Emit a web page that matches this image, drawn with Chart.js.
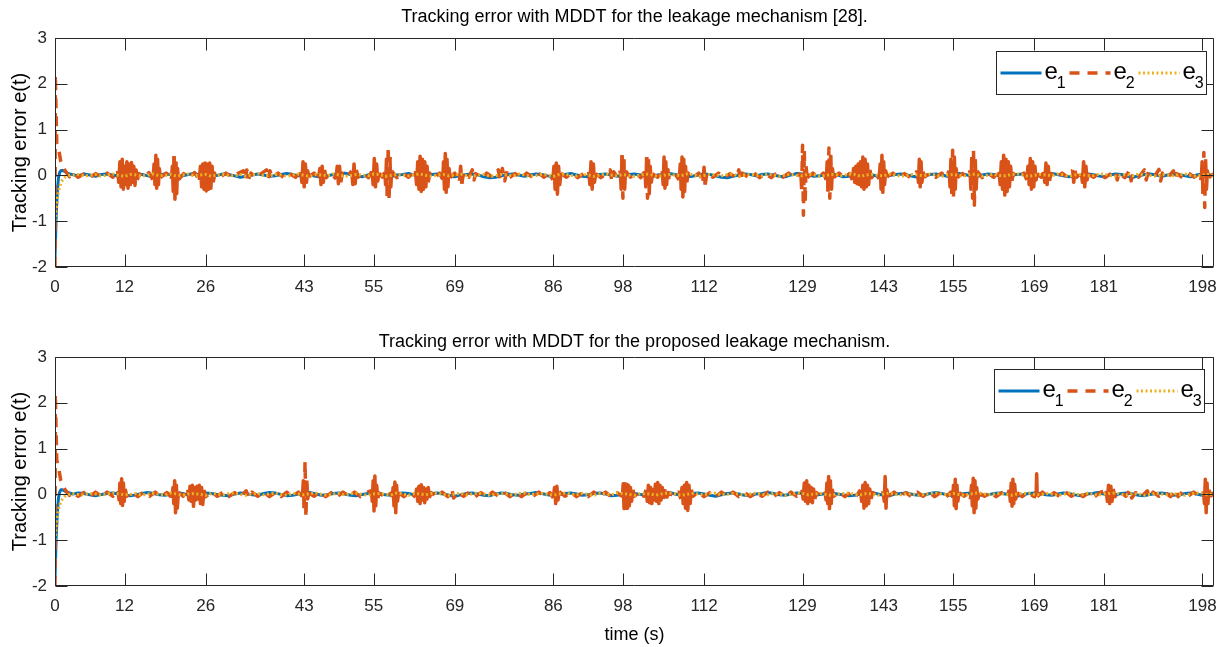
<!DOCTYPE html>
<html><head><meta charset="utf-8">
<script src="https://cdn.jsdelivr.net/npm/chart.js@4"></script>
<style>
html,body{margin:0;padding:0;background:#fff;width:1222px;height:647px;overflow:hidden}
.wrap{position:absolute;left:0;width:1222px}
canvas{display:block}
</style></head><body>
<div class="wrap" style="top:0;height:323px"><canvas id="c1" width="1222" height="323"></canvas></div>
<div class="wrap" style="top:323px;height:324px"><canvas id="c2" width="1222" height="324"></canvas></div>
<script>
// ---------- DATA ----------
const xTicks = [0,12,26,43,55,69,86,98,112,129,143,155,169,181,198];
const yTicks = [-2,-1,0,1,2,3];
const seriesLabels = ['e_1','e_2','e_3'];
const titleTop = 'Tracking error with MDDT for the leakage mechanism [28].';
const titleBot = 'Tracking error with MDDT for the proposed leakage mechanism.';
const yLabel = 'Tracking error e(t)';
const xLabel = 'time (s)';

// time samples for e1 / e3
const tE = [0,0.2,0.4,0.6,0.8,1,1.3,1.6,2,2.5,
3,4,5,6,7,8,9,10,11,12,13,14,15,16,17,18,19,20,21,22,23,24,25,26,27,28,29,30,31,32,33,34,35,36,37,38,39,40,41,42,
43,44,45,46,47,48,49,50,51,52,53,54,55,56,57,58,59,60,61,62,63,64,65,66,67,68,69,70,71,72,73,74,75,76,77,78,79,80,81,82,
83,84,85,86,87,88,89,90,91,92,93,94,95,96,97,98,99,100,101,102,103,104,105,106,107,108,109,110,111,112,113,114,115,116,117,118,119,120,121,122,
123,124,125,126,127,128,129,130,131,132,133,134,135,136,137,138,139,140,141,142,143,144,145,146,147,148,149,150,151,152,153,154,155,156,157,158,159,160,161,162,
163,164,165,166,167,168,169,170,171,172,173,174,175,176,177,178,179,180,181,182,183,184,185,186,187,188,189,190,191,192,193,194,195,196,197,198,199,200];

const e1Top = [-1.8,-0.9,-0.35,-0.05,0.06,0.1,0.11,0.09,0.06,0.03,
0.02,-0.01,0.03,0.01,-0.02,0.02,0.03,0.01,-0.02,-0.03,
0.01,0.03,0.02,-0.01,-0.03,0.01,0.03,0.02,-0.02,-0.01,
0.02,0.04,0.01,-0.02,-0.03,0.00,0.03,0.02,-0.01,-0.04,
-0.02,0.01,0.03,0.01,-0.02,-0.01,0.02,0.04,0.02,-0.01,
0.03,0.01,-0.02,-0.04,-0.01,0.02,0.03,0.05,0.02,-0.01,
-0.03,0.01,0.03,0.02,-0.02,-0.03,0.01,0.02,0.04,0.01,
-0.02,-0.01,0.02,0.03,0.01,-0.02,-0.03,0.00,0.02,0.03,
0.01,-0.03,-0.05,-0.04,-0.01,0.02,0.03,0.01,-0.02,0.01,
0.03,0.02,-0.01,-0.03,0.01,0.02,0.04,0.01,-0.02,-0.03,
0.00,0.02,0.03,0.01,-0.02,-0.01,0.02,0.03,0.01,-0.02,
-0.03,0.01,0.02,0.04,0.02,-0.01,-0.03,-0.02,0.01,0.03,
0.02,-0.01,-0.04,-0.05,-0.02,0.01,0.03,0.02,-0.01,0.02,
0.03,0.01,-0.02,-0.03,0.01,0.04,0.03,0.01,-0.02,-0.01,
0.02,0.03,0.01,-0.03,-0.02,0.01,0.02,0.04,0.01,-0.02,
-0.03,0.00,0.02,0.03,0.01,-0.02,-0.04,-0.01,0.02,0.03,
0.01,-0.02,0.02,0.04,0.02,-0.01,-0.03,0.01,0.03,0.02,
-0.01,-0.03,0.01,0.02,0.03,0.01,-0.02,-0.01,0.02,0.04,
0.02,-0.01,-0.03,-0.02,0.01,0.03,0.02,-0.01,-0.03,0.01,
0.03,0.02,-0.02,-0.04,-0.01,0.02,0.03,0.01,-0.02,0.01,
0.03,0.02,-0.01,-0.03,0.01,0.03,0.02,-0.01];

const e3Top = [-1.0,-0.75,-0.5,-0.35,-0.25,-0.17,-0.1,-0.05,-0.02,0.0,
0.01,0.02,-0.01,0.00,0.02,-0.02,0.01,0.03,0.00,-0.02,
0.02,0.01,-0.02,0.01,0.03,-0.01,0.00,0.02,-0.02,0.01,
0.03,-0.01,0.01,0.02,-0.02,0.01,0.02,0.00,-0.01,0.02,
-0.02,0.01,0.03,0.00,-0.01,0.02,0.01,-0.02,0.01,0.03,
0.00,-0.02,0.02,0.01,-0.01,0.03,0.01,-0.02,0.00,0.02,
0.01,-0.01,0.03,0.02,-0.02,0.00,0.02,0.01,-0.01,0.02,
0.03,0.00,-0.02,0.01,0.02,-0.01,0.01,0.03,0.00,-0.02,
0.01,0.02,-0.02,-0.01,0.02,0.01,-0.01,0.03,0.01,-0.02,
0.00,0.02,0.01,-0.02,0.02,0.03,0.00,-0.01,0.02,0.01,
-0.02,0.01,0.03,0.01,-0.01,0.02,0.00,-0.02,0.01,0.03,
0.01,-0.02,0.00,0.02,0.01,-0.01,0.03,0.02,-0.02,0.00,
0.02,0.01,-0.01,0.02,0.03,-0.02,0.01,0.02,0.00,-0.01,
0.03,0.01,-0.02,0.01,0.02,0.00,-0.01,0.03,0.01,-0.02,
0.00,0.02,0.01,-0.01,0.03,0.02,-0.02,0.01,0.02,0.00,
-0.01,0.03,0.01,-0.02,0.00,0.02,0.01,-0.01,0.03,0.01,
-0.02,0.01,0.02,0.00,-0.01,0.03,0.02,-0.02,0.01,0.02,
0.00,-0.01,0.02,0.03,0.01,-0.02,0.00,0.02,0.01,-0.01,
0.03,0.01,-0.02,0.01,0.02,0.00,-0.01,0.02,0.03,0.00,
-0.02,0.01,0.02,-0.01,0.03,0.01,0.00,-0.02,0.02,0.01,
-0.01,0.02,0.03,0.00,-0.02,0.01,0.02,0.00];

const e1Bot = [-1.85,-0.95,-0.4,-0.08,0.05,0.1,0.1,0.08,0.05,0.03,
0.01,0.03,0.02,-0.01,-0.03,0.00,0.02,0.03,0.01,-0.02,
-0.03,-0.01,0.02,0.04,0.02,-0.01,-0.02,0.01,0.03,0.02,
-0.01,-0.03,0.01,0.03,0.02,0.00,-0.02,-0.03,0.01,0.03,
0.02,-0.01,-0.02,0.02,0.04,0.03,0.00,-0.03,-0.02,0.01,
0.03,0.04,0.01,-0.02,-0.01,0.02,0.03,0.01,-0.02,-0.03,
0.00,0.02,0.04,0.02,-0.01,-0.02,0.01,0.03,0.02,-0.01,
-0.03,0.01,0.02,0.03,0.01,-0.02,-0.04,-0.01,0.02,0.03,
0.01,-0.02,-0.03,0.01,0.03,0.02,-0.01,-0.02,0.01,0.02,
0.04,0.02,-0.01,-0.03,0.00,0.02,0.03,0.01,-0.02,-0.01,
0.02,0.03,0.01,-0.03,-0.02,0.01,0.03,0.02,0.00,-0.02,
-0.03,0.01,0.02,0.04,0.01,-0.02,-0.01,0.02,0.03,0.01,
-0.02,-0.04,-0.01,0.02,0.03,0.01,-0.02,-0.03,0.01,0.02,
0.04,0.02,-0.01,-0.02,0.01,0.03,0.02,-0.02,-0.03,0.00,
0.02,0.03,0.01,-0.01,-0.03,-0.02,0.01,0.03,0.04,0.01,
-0.02,-0.03,0.01,0.02,0.03,0.00,-0.02,-0.01,0.02,0.04,
0.02,-0.01,-0.03,0.00,0.02,0.03,0.01,-0.02,-0.01,0.02,
0.03,0.01,-0.02,-0.04,-0.01,0.02,0.03,0.02,-0.01,-0.02,
0.01,0.03,0.02,-0.01,-0.03,0.01,0.02,0.04,0.01,-0.02,
-0.01,0.02,0.03,0.01,-0.02,-0.03,0.00,0.02,0.03,0.01,
-0.02,-0.01,0.02,0.03,0.01,-0.02,0.01,0.03];

const e3Bot = [-1.0,-0.72,-0.48,-0.33,-0.24,-0.16,-0.1,-0.05,-0.02,0.0,
0.02,0.00,-0.01,0.02,0.01,-0.02,0.01,0.03,0.01,-0.01,
0.00,0.02,-0.02,0.01,0.02,0.00,-0.01,0.03,0.01,-0.02,
0.01,0.02,0.00,-0.02,0.02,0.01,-0.01,0.02,0.03,0.00,
-0.02,0.01,0.02,-0.01,0.01,0.03,0.00,-0.02,0.02,0.01,
-0.01,0.02,0.03,0.00,-0.02,0.01,0.02,-0.01,0.01,0.03,
0.00,-0.02,0.01,0.02,0.00,-0.01,0.03,0.01,-0.02,0.02,
0.01,-0.01,0.02,0.03,0.00,-0.02,0.01,0.02,-0.01,0.01,
0.03,0.01,-0.02,0.00,0.02,0.01,-0.01,0.02,0.03,-0.01,
0.01,0.02,0.00,-0.02,0.01,0.03,0.01,-0.01,0.02,0.00,
-0.02,0.02,0.01,-0.01,0.03,0.02,0.00,-0.02,0.01,0.02,
0.00,-0.01,0.02,0.03,0.01,-0.02,0.00,0.02,0.01,-0.01,
0.02,0.03,-0.01,0.00,0.02,0.01,-0.02,0.01,0.03,0.00,
-0.01,0.02,0.01,-0.02,0.00,0.03,0.02,-0.01,0.01,0.02,
0.00,-0.02,0.01,0.02,0.03,0.00,-0.01,0.02,0.01,-0.02,
0.01,0.03,0.00,-0.01,0.02,0.01,-0.02,0.00,0.02,0.03,
0.01,-0.01,0.02,0.00,-0.02,0.01,0.03,0.02,-0.01,0.01,
0.02,0.00,-0.02,0.01,0.02,0.03,0.00,-0.01,0.02,0.01,
-0.02,0.00,0.03,0.01,-0.01,0.02,0.01,-0.02,0.01,0.02,
0.03,0.00,-0.01,0.02,0.01,-0.02,0.00,0.03,0.01,-0.01,
0.02,0.00,-0.02,0.01,0.03,0.01,-0.01,0.02];

// e2 as [time, value] samples (dense inside oscillation bursts)
const e2Top = [[0,-2.0],[0.05,2.2],[0.3,0.7],[0.6,0.6],[1.0,0.3],[1.5,0.15],[2,0.06],[2.5,-0.03],[3,0.05],[4,-0.04],[5,0.03],[6,-0.05],[7,0.04],[8,-0.03],[9,0.05],[10,-0.04],
[10.8,0.1],[11.0,-0.15],[11.2,0.3],[11.4,-0.25],[11.6,0.35],[11.8,-0.3],[12.0,0.2],[12.2,-0.2],[12.4,0.3],[12.6,-0.28],[12.8,0.25],[13.0,-0.2],[13.2,0.28],[13.4,-0.15],[13.6,0.2],[13.8,-0.22],[14.0,0.12],[14.2,-0.1],[14.5,0.04],
[15.3,-0.05],[16.2,0.06],
[16.9,-0.1],[17.1,0.25],[17.25,-0.2],[17.4,0.44],[17.55,-0.28],[17.7,0.35],[17.85,-0.2],[18.0,0.15],[18.2,-0.05],
[19.2,0.05],
[20.1,-0.08],[20.25,0.2],[20.4,-0.35],[20.55,0.42],[20.7,-0.52],[20.85,0.3],[21.0,-0.4],[21.15,0.15],[21.3,-0.1],
[22.2,0.04],[23.1,-0.05],[24.1,0.06],
[24.9,-0.1],[25.1,0.2],[25.3,-0.25],[25.5,0.25],[25.7,-0.3],[25.9,0.27],[26.1,-0.34],[26.3,0.25],[26.5,-0.3],[26.7,0.27],[26.9,-0.28],[27.1,0.2],[27.3,-0.15],[27.6,0.05],
[28.5,-0.04],[29.5,0.05],[30.5,-0.03],[31.5,0.04],
[32.5,0.1],[32.8,-0.1],[33.1,0.12],[33.4,-0.08],[33.8,0.05],
[34.8,-0.04],[35.7,0.05],
[36.5,0.12],[36.8,-0.08],[37.1,0.1],[37.5,-0.04],
[38.5,0.05],[39.5,-0.05],[40.5,0.04],[41.5,-0.04],
[42.4,0.08],[42.6,-0.15],[42.8,0.3],[43.0,-0.25],[43.2,0.25],[43.4,-0.15],[43.6,0.1],[43.8,-0.03],
[44.7,0.05],
[45.5,-0.05],[45.7,0.15],[45.9,-0.2],[46.1,0.2],[46.3,-0.15],[46.5,0.12],[46.8,-0.05],
[47.7,0.04],
[48.5,-0.08],[48.7,0.2],[48.9,-0.18],[49.1,0.2],[49.3,-0.15],[49.6,0.05],
[50.4,-0.03],
[51.2,0.1],[51.4,-0.2],[51.6,0.25],[51.8,-0.18],[52.0,0.12],[52.3,-0.04],
[53.2,0.05],[54.1,-0.05],
[54.7,0.1],[54.9,-0.2],[55.1,0.37],[55.3,-0.25],[55.5,0.25],[55.7,-0.12],[55.9,0.05],
[56.5,-0.04],
[56.9,0.08],[57.05,-0.2],[57.2,0.35],[57.35,-0.45],[57.5,0.62],[57.65,-0.55],[57.8,0.4],[57.95,-0.25],[58.1,0.1],
[59,-0.05],[60,0.05],[61,-0.04],
[62.2,0.1],[62.4,-0.2],[62.6,0.3],[62.8,-0.3],[63.0,0.42],[63.2,-0.35],[63.4,0.35],[63.6,-0.3],[63.8,0.3],[64.0,-0.25],[64.2,0.2],[64.4,-0.15],[64.7,0.05],
[65.6,-0.04],[66.4,0.05],
[66.9,-0.1],[67.05,0.3],[67.2,-0.3],[67.35,0.48],[67.5,-0.37],[67.65,0.35],[67.8,-0.25],[68.0,0.15],[68.2,-0.05],
[69,0.05],
[69.8,-0.12],[70.0,0.2],[70.2,-0.18],[70.5,0.06],
[71.4,-0.04],[72,0.12],[72.3,-0.1],[72.6,0.04],
[73.5,-0.05],[74.5,0.05],[75.5,-0.04],
[76.5,0.12],[76.8,-0.1],[77.2,0.15],[77.6,-0.12],[78.0,0.1],[78.4,-0.05],
[79.4,0.04],[80.4,-0.05],[81.4,0.05],[82.4,-0.04],[83.4,0.05],[84.4,-0.04],[85.3,0.05],
[85.9,-0.1],[86.1,0.2],[86.3,-0.3],[86.5,0.27],[86.7,-0.41],[86.9,0.2],[87.1,-0.2],[87.3,0.05],
[88.2,-0.04],[89.2,0.05],[90.2,-0.05],[91.2,0.04],
[92.1,0.08],[92.3,-0.2],[92.5,0.3],[92.7,-0.3],[92.9,0.25],[93.1,-0.15],[93.3,0.04],
[94.2,-0.05],[95.1,0.04],[95.8,0.12],[96.1,-0.14],[96.4,0.08],[97.1,-0.05],
[97.55,0.1],[97.7,-0.3],[97.85,0.44],[98.0,-0.5],[98.15,0.35],[98.3,-0.3],[98.45,0.1],
[99.3,-0.04],[100.2,0.05],[101.1,-0.05],
[101.8,0.1],[101.95,-0.25],[102.1,0.4],[102.25,-0.5],[102.4,0.35],[102.55,-0.4],[102.7,0.2],[102.9,-0.15],[103.1,0.04],
[104.0,-0.04],
[104.8,0.1],[104.95,-0.2],[105.1,0.4],[105.25,-0.28],[105.4,0.3],[105.55,-0.2],[105.7,0.15],[106.0,-0.05],
[106.9,0.05],
[107.7,-0.1],[107.9,0.25],[108.05,-0.3],[108.2,0.4],[108.35,-0.47],[108.5,0.35],[108.65,-0.35],[108.8,0.2],[109.0,-0.15],[109.3,0.05],
[110.2,-0.04],[111.1,0.05],
[111.8,-0.12],[112.0,0.18],[112.2,-0.2],[112.5,0.06],
[113.5,-0.04],[114.5,0.05],[115.5,-0.05],[116.5,0.04],[117.5,-0.05],[118,0.12],[118.3,-0.12],[118.6,0.05],[119.6,-0.04],[120.6,0.05],[121.6,-0.05],[122.6,0.04],[123.6,-0.05],[124.6,0.06],[125.6,-0.04],[126.6,0.05],[127.6,-0.05],
[128.7,0.05],[128.85,-0.3],[129.0,0.66],[129.15,-0.87],[129.3,0.55],[129.45,-0.6],[129.6,0.2],[129.8,-0.05],
[130.8,0.05],[131.8,-0.04],[132.6,0.05],
[133.1,-0.1],[133.25,0.3],[133.4,-0.35],[133.55,0.6],[133.7,-0.5],[133.85,0.45],[134.0,-0.3],[134.15,0.15],[134.35,-0.05],
[135.3,0.05],[136.3,-0.05],[137.1,0.04],
[137.6,-0.1],[137.8,0.15],[138.0,-0.15],[138.2,0.2],[138.4,-0.18],[138.6,0.25],[138.8,-0.2],[139.0,0.3],[139.2,-0.25],[139.4,0.4],[139.6,-0.3],[139.8,0.35],[140.0,-0.25],[140.2,0.25],[140.4,-0.2],[140.6,0.12],[140.9,-0.05],
[141.7,0.05],
[142.2,-0.08],[142.4,0.25],[142.55,-0.3],[142.7,0.44],[142.85,-0.37],[143.0,0.3],[143.15,-0.2],[143.35,0.1],[143.6,-0.03],
[144.6,0.05],[145.6,-0.05],[146.6,0.04],[147.6,-0.05],[148.4,0.04],
[148.8,0.1],[149.0,-0.15],[149.15,0.35],[149.3,-0.25],[149.45,0.3],[149.6,-0.15],[149.8,0.08],[150.1,-0.03],
[151,0.05],[152,-0.04],[153,0.05],[153.8,-0.04],
[154.3,0.1],[154.45,-0.25],[154.6,0.35],[154.75,-0.4],[154.9,0.55],[155.05,-0.46],[155.2,0.4],[155.35,-0.3],[155.5,0.15],[155.7,-0.05],
[156.6,0.04],[157.4,-0.04],
[157.9,0.1],[158.05,-0.3],[158.2,0.4],[158.35,-0.5],[158.5,0.55],[158.65,-0.65],[158.8,0.35],[158.95,-0.3],[159.1,0.1],
[160,-0.05],[161,0.05],[162,-0.04],
[162.9,0.08],[163.1,-0.2],[163.3,0.3],[163.5,-0.3],[163.7,0.44],[163.9,-0.43],[164.1,0.35],[164.3,-0.35],[164.5,0.3],[164.7,-0.25],[164.9,0.2],[165.1,-0.12],[165.4,0.04],
[166.3,-0.04],[167.2,0.05],
[167.7,-0.1],[167.9,0.2],[168.1,-0.2],[168.3,0.37],[168.5,-0.3],[168.7,0.3],[168.9,-0.25],[169.1,0.2],[169.3,-0.1],[169.5,0.04],
[170.2,-0.04],
[170.6,0.08],[170.8,-0.15],[171.0,0.27],[171.2,-0.2],[171.4,0.2],[171.6,-0.12],[171.9,0.04],
[172.8,-0.05],[173.8,0.05],[174.8,-0.04],
[175.6,0.12],[175.8,-0.15],[176.0,0.1],[176.3,-0.04],
[177.1,0.05],[177.3,-0.15],[177.5,0.3],[177.7,-0.25],[177.9,0.2],[178.1,-0.1],[178.3,0.03],
[179.2,-0.04],[180.2,0.05],[181.2,-0.05],[182.2,0.04],
[183,0.1],[183.3,-0.1],[183.6,0.05],[184.6,-0.05],[185.4,0.1],[185.7,-0.12],[186,0.05],[187,-0.04],[188,0.12],[188.3,-0.1],[188.6,0.04],[189.6,-0.05],[190.5,0.13],[190.8,-0.12],[191.1,0.05],[192,-0.05],[193,0.1],[193.3,-0.08],[193.6,0.04],[194.6,-0.05],[195.6,0.05],[196.6,-0.04],[197.5,0.05],
[197.8,-0.1],[197.95,0.3],[198.1,-0.4],[198.25,0.5],[198.4,-0.7],[198.55,0.35],[198.7,-0.3],[198.85,0.1],[199.1,-0.05],[200,0.04]];

const e2Bot = [[0,-2.0],[0.05,2.2],[0.3,0.75],[0.6,0.6],[1.0,0.3],[1.5,0.15],[2,0.06],[2.5,-0.02],[3,0.05],[4,-0.04],[5,0.04],[6,-0.05],[7,0.05],[8,-0.04],[9,0.05],[10,-0.04],
[10.9,0.08],[11.05,-0.12],[11.2,0.25],[11.35,-0.2],[11.5,0.34],[11.65,-0.24],[11.8,0.25],[11.95,-0.15],[12.1,0.12],[12.4,-0.04],
[13.3,0.05],[14.3,-0.05],[15.3,0.05],[16.3,-0.04],[17.3,0.05],[18.3,-0.05],[19.3,0.04],
[20.2,-0.08],[20.35,0.15],[20.5,-0.2],[20.65,0.3],[20.8,-0.4],[20.95,0.2],[21.1,-0.3],[21.3,0.05],
[22.1,-0.04],
[22.9,0.1],[23.1,-0.12],[23.3,0.18],[23.5,-0.15],[23.7,0.2],[23.9,-0.26],[24.1,0.15],[24.3,-0.12],[24.5,0.18],[24.7,-0.1],[24.9,0.2],[25.1,-0.2],[25.3,0.15],[25.5,-0.22],[25.7,0.1],[26.0,-0.05],
[27,0.05],[28,-0.04],[29,0.05],[30,-0.05],[31,0.04],[32,-0.05],[33,0.08],[33.3,-0.07],[34,0.05],[35,-0.04],[36,0.05],[37,-0.05],[38,0.04],[39,-0.05],[40,0.05],[41,-0.04],[42,0.05],
[42.7,-0.05],[42.85,0.3],[43.0,-0.3],[43.15,0.72],[43.3,-0.5],[43.45,0.3],[43.6,-0.1],[43.8,0.03],
[44.7,-0.04],[45.7,0.05],[46.7,-0.05],[47.7,0.04],[48.7,-0.05],[49.7,0.05],[50.7,-0.04],[51.7,0.05],[52.7,-0.05],[53.7,0.04],
[54.6,0.08],[54.75,-0.15],[54.9,0.3],[55.05,-0.36],[55.2,0.4],[55.35,-0.25],[55.5,0.2],[55.7,-0.08],[55.9,0.03],
[56.8,-0.04],[57.7,0.05],
[58.2,-0.05],[58.35,0.15],[58.5,-0.25],[58.65,0.27],[58.8,-0.4],[58.95,0.2],[59.1,-0.15],[59.3,0.04],
[60.2,-0.05],[61.2,0.05],
[62.2,-0.06],[62.4,0.12],[62.6,-0.15],[62.8,0.18],[63.0,-0.2],[63.2,0.21],[63.4,-0.12],[63.6,0.15],[63.8,-0.18],[64.0,0.12],[64.2,-0.1],[64.4,0.15],[64.6,-0.08],[64.9,0.04],
[65.8,-0.04],[66.8,0.05],[67.8,-0.05],[68.5,0.1],[68.8,-0.08],[69.5,0.05],[70.5,-0.04],[71.5,0.05],[72.5,-0.05],[73.5,0.04],[74.5,-0.05],[75.5,0.05],[76.5,-0.04],[77.5,0.05],[78.5,-0.05],[79.5,0.04],[80.5,-0.05],[81.5,0.05],[82.5,-0.04],[83.5,0.05],[84.5,-0.05],[85.4,0.04],
[86.0,-0.08],[86.2,0.15],[86.4,-0.2],[86.6,0.18],[86.8,-0.12],[87.0,0.06],
[88,-0.04],[89,0.05],[90,-0.05],[91,0.04],[92,-0.05],[93,0.05],[94,-0.04],[95,0.05],[96,-0.05],[97,0.04],
[97.9,-0.05],[98.05,0.23],[98.2,-0.31],[98.35,0.23],[98.5,-0.3],[98.65,0.22],[98.8,-0.3],[98.95,0.2],[99.1,-0.25],[99.3,0.15],[99.5,-0.15],[99.7,0.1],[100.0,-0.04],
[100.9,0.05],[101.6,-0.04],
[102.0,0.1],[102.2,-0.15],[102.4,0.2],[102.6,-0.18],[102.8,0.15],[103.0,-0.2],[103.2,0.1],[103.4,-0.12],[103.6,0.22],[103.8,-0.15],[104.0,0.26],[104.2,-0.2],[104.4,0.2],[104.6,-0.12],[104.8,0.15],[105.0,-0.1],[105.3,0.12],[105.6,-0.06],[105.9,0.04],
[106.9,-0.04],[107.6,0.05],
[108.0,-0.1],[108.2,0.15],[108.4,-0.2],[108.6,0.2],[108.8,-0.3],[109.0,0.26],[109.2,-0.35],[109.4,0.2],[109.6,-0.2],[109.8,0.1],[110.1,-0.04],
[111,0.05],[112,-0.05],[113,0.04],[114,-0.05],[115,0.05],[116,-0.04],[117,0.05],[118,-0.05],[119,0.04],[120,-0.05],[121,0.05],[122,-0.04],[123,0.05],[124,-0.05],[125,0.04],[126,-0.05],[127,0.05],[128,-0.04],
[128.9,0.1],[129.1,-0.1],[129.3,0.25],[129.5,-0.15],[129.7,0.3],[129.9,-0.2],[130.1,0.2],[130.3,-0.15],[130.5,0.15],[130.7,-0.18],[130.9,0.12],[131.1,-0.1],[131.4,0.04],
[132.3,-0.04],
[132.9,0.05],[133.05,-0.12],[133.2,0.25],[133.35,-0.2],[133.5,0.39],[133.65,-0.31],[133.8,0.3],[133.95,-0.2],[134.1,0.12],[134.4,-0.04],
[135.3,0.05],[136.3,-0.05],[137.3,0.04],[138.2,-0.05],
[139.0,0.1],[139.2,-0.15],[139.4,0.2],[139.6,-0.3],[139.8,0.26],[140.0,-0.25],[140.2,0.2],[140.4,-0.2],[140.6,0.12],[140.8,-0.1],[141.1,0.04],
[142,-0.04],
[142.9,0.05],[143.1,-0.15],[143.25,0.39],[143.4,-0.3],[143.55,0.1],[143.8,-0.04],
[144.8,0.05],[145.8,-0.05],[146.8,0.04],[147.8,-0.05],[148.8,0.05],[149.8,-0.04],[150.8,0.05],[151.8,-0.05],[152.8,0.04],[153.8,-0.05],[154.6,0.05],
[154.9,-0.08],[155.05,0.2],[155.2,-0.25],[155.35,0.33],[155.5,-0.31],[155.65,0.2],[155.8,-0.15],[156.0,0.04],
[156.9,-0.04],[157.7,0.05],
[158.0,-0.1],[158.15,0.2],[158.3,-0.25],[158.45,0.35],[158.6,-0.4],[158.75,0.3],[158.9,-0.3],[159.05,0.15],[159.25,-0.1],[159.5,0.03],
[160.4,-0.04],[161.4,0.05],[162.4,-0.05],[163.4,0.04],[164.3,-0.04],
[164.7,0.1],[164.85,-0.15],[165.0,0.25],[165.15,-0.26],[165.3,0.33],[165.45,-0.2],[165.6,0.22],[165.8,-0.1],[166.0,0.04],
[166.9,-0.05],[167.9,0.05],[168.8,-0.04],
[169.3,-0.05],[169.4,0.45],[169.5,-0.05],
[170.4,0.05],[171.4,-0.05],[172.4,0.04],[173.4,-0.05],[174.4,0.05],[175.4,-0.04],[176.4,0.05],[177.4,-0.05],[178.4,0.04],[179.4,-0.05],[180.4,0.05],
[181.4,0.08],[181.6,-0.15],[181.8,0.2],[182.0,-0.2],[182.2,0.18],[182.4,-0.15],[182.6,0.12],[182.9,-0.05],
[183.8,0.05],[184.8,-0.04],[185.5,0.1],[185.8,-0.08],[186.5,0.04],[187.5,-0.05],[188.5,0.08],[188.8,-0.07],[189.5,0.05],[190.5,-0.04],[191.5,0.05],[192.5,-0.05],[193.5,0.1],[193.8,-0.05],[194.5,0.05],[195.5,-0.04],[196.5,0.05],[197.5,-0.05],
[198.2,0.05],[198.35,-0.2],[198.5,0.33],[198.65,-0.4],[198.8,0.25],[198.95,-0.2],[199.1,0.1],[199.5,-0.03],[200,0.04]];

// ---------- STYLE ----------
const FONT = "'Liberation Sans', Arial, Helvetica, sans-serif";
const AX = '#262626';
const COLORS = ['#0072BD','#D95319','#EDB120'];

function pts(ts, vs){ const out=[]; for(let i=0;i<Math.min(ts.length,vs.length);i++) out.push({x:ts[i],y:vs[i]}); return out; }
function pairs(arr){ return arr.map(p=>({x:p[0],y:p[1]})); }

const framePlugin = {
  id:'frame',
  afterDatasetsDraw(chart, args, o){
    const {ctx, chartArea:a, scales:{x,y}} = chart;
    ctx.save();
    ctx.strokeStyle = AX; ctx.lineWidth = 1;
    const L = Math.round(a.left)+0.5, R = Math.round(a.right)-0.5, T = Math.round(a.top)+0.5, B = Math.round(a.bottom)-0.5;
    ctx.beginPath(); ctx.rect(L,T,R-L,B-T); ctx.stroke();
    const TL = 12;
    ctx.beginPath();
    xTicks.forEach(v=>{ const px=Math.round(x.getPixelForValue(v))+0.5; ctx.moveTo(px,B); ctx.lineTo(px,B-TL); ctx.moveTo(px,T); ctx.lineTo(px,T+TL); });
    yTicks.forEach(v=>{ const py=Math.round(y.getPixelForValue(v))+0.5; ctx.moveTo(L,py); ctx.lineTo(L+TL,py); ctx.moveTo(R,py); ctx.lineTo(R-TL,py); });
    ctx.stroke();
    ctx.fillStyle = '#000'; ctx.textAlign='center'; ctx.textBaseline='alphabetic';
    ctx.font = '18px '+FONT;
    ctx.fillText(o.title, (a.left+a.right)/2, a.top + o.titleDy);
    ctx.save();
    ctx.translate(26, (a.top+a.bottom)/2); ctx.rotate(-Math.PI/2);
    ctx.font = '20px '+FONT; ctx.fillText(yLabel, 0, 0);
    ctx.restore();
    if (o.xlabel){ ctx.font='18px '+FONT; ctx.fillText(xLabel, (a.left+a.right)/2, a.bottom + 54); }
    const bx = Math.round(a.right - 218 + o.legDx)+0.5, by = Math.round(a.top + o.legDy)+0.5, bw = 210, bh = 43;
    ctx.fillStyle='#fff'; ctx.fillRect(bx,by,bw,bh);
    ctx.strokeStyle=AX; ctx.lineWidth=1; ctx.strokeRect(bx,by,bw,bh);
    chart.data.datasets.forEach((ds,i)=>{
      const lx = bx+4+i*69, ly = by+21.5;
      ctx.save(); ctx.strokeStyle=ds.borderColor; ctx.lineWidth=ds.borderWidth; ctx.setLineDash(ds.borderDash||[]);
      ctx.beginPath(); ctx.moveTo(lx,ly); ctx.lineTo(lx+41,ly); ctx.stroke(); ctx.restore();
      const [base, sub] = ds.label.split('_');
      ctx.fillStyle='#000'; ctx.textAlign='left'; ctx.textBaseline='alphabetic';
      ctx.font='24px '+FONT; ctx.fillText(base, lx+44, by+27.5);
      const w = ctx.measureText(base).width;
      ctx.font='16px '+FONT; ctx.fillText(sub, lx+44+w-1, by+36.5);
    });
    ctx.restore();
  }
};

// dense oscillation strokes render solid (as the high-rate bursts do); slow parts keep the dash
function burstDash(c){
  const y0=c.p0.parsed.y, y1=c.p1.parsed.y, dx=c.p1.parsed.x-c.p0.parsed.x;
  if (dx < 0.26 && Math.abs(y1-y0) > 0.12 && Math.max(Math.abs(y0),Math.abs(y1)) < 0.5) return [];
  return undefined;
}

function makeChart(id, e1, e2, e3, opt){
  const datasets = [
    {label:seriesLabels[0], data:pts(tE,e1), borderColor:COLORS[0], borderWidth:3, order:3},
    {label:seriesLabels[1], data:pairs(e2), borderColor:COLORS[1], borderWidth:3.5, borderDash:[10,8], order:2, segment:{borderDash:burstDash}},
    {label:seriesLabels[2], data:pts(tE,e3), borderColor:COLORS[2], borderWidth:3, borderDash:[2,2.5], order:1}
  ];
  datasets.forEach(d=>{ d.pointRadius=0; d.tension=0; d.fill=false; d.borderJoinStyle='round'; });
  return new Chart(document.getElementById(id), {
    type:'line',
    data:{datasets},
    plugins:[framePlugin],
    options:{
      responsive:false, animation:false, devicePixelRatio:1,
      layout:{padding:{top:opt.padTop, right:8, bottom:0, left:0}},
      plugins:{legend:{display:false}, tooltip:{enabled:false}, title:{display:false}, frame:opt},
      scales:{
        x:{type:'linear', min:0, max:200,
           afterBuildTicks:(s)=>{ s.ticks = xTicks.map(v=>({value:v})); },
           afterFit:(s)=>{ s.height = opt.xH; s.paddingLeft = 0; s.paddingRight = 0; },
           grid:{display:false, drawTicks:false}, border:{display:false},
           ticks:{autoSkip:false, maxRotation:0, padding:10, color:'#262626', font:{family:FONT, size:17}}},
        y:{type:'linear', min:-2, max:3,
           afterBuildTicks:(s)=>{ s.ticks = yTicks.map(v=>({value:v})); },
           afterFit:(s)=>{ s.width = 55; },
           grid:{display:false, drawTicks:false}, border:{display:false},
           ticks:{padding:8, color:'#262626', font:{family:FONT, size:17}}}
      }
    }
  });
}

makeChart('c1', e1Top, e2Top, e3Top, {title:titleTop, titleDy:-16, xlabel:false, legDx:0, legDy:13, padTop:38, xH:56});
makeChart('c2', e1Bot, e2Bot, e3Bot, {title:titleBot, titleDy:-10, xlabel:true, legDx:-2, legDy:12, padTop:34, xH:61});
</script>
</body></html>
